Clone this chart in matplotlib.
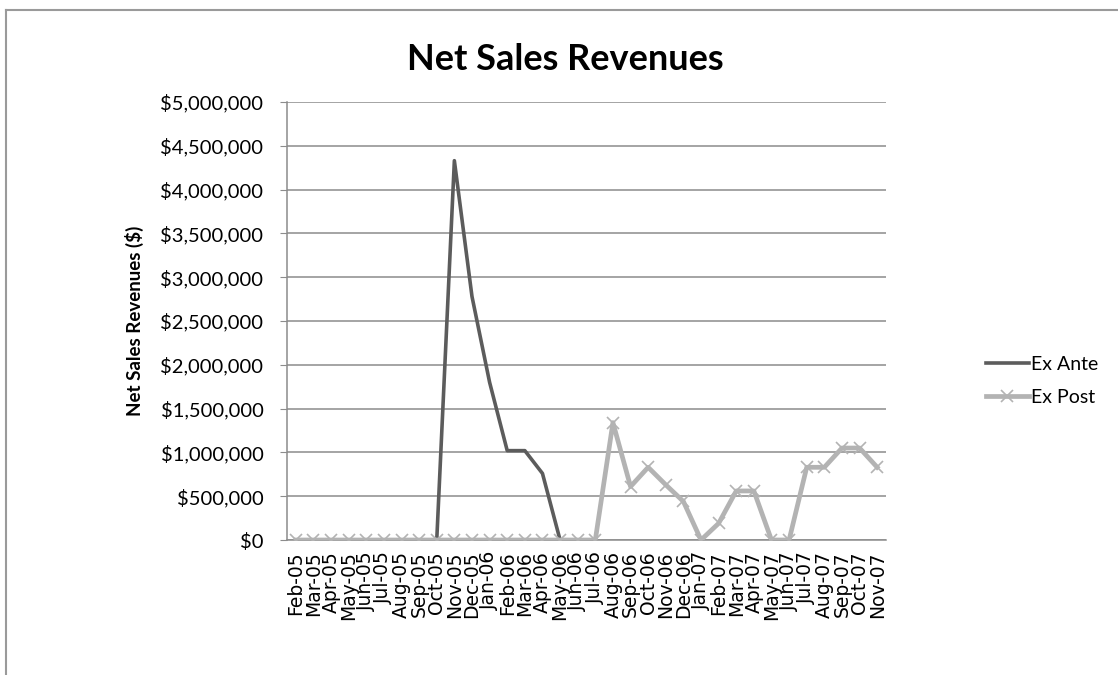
import numpy as np
import matplotlib
matplotlib.use("Agg")
import matplotlib.pyplot as plt
from matplotlib.lines import Line2D
from matplotlib.ticker import FuncFormatter, MultipleLocator

months = ["Feb-05", "Mar-05", "Apr-05", "May-05", "Jun-05", "Jul-05", "Aug-05",
          "Sep-05", "Oct-05", "Nov-05", "Dec-05", "Jan-06", "Feb-06", "Mar-06",
          "Apr-06", "May-06", "Jun-06", "Jul-06", "Aug-06", "Sep-06", "Oct-06",
          "Nov-06", "Dec-06", "Jan-07", "Feb-07", "Mar-07", "Apr-07", "May-07",
          "Jun-07", "Jul-07", "Aug-07", "Sep-07", "Oct-07", "Nov-07"]

nan = np.nan
ex_ante = [nan, nan, nan, nan, nan, nan, nan, nan,
           0, 4330000, 2780000, 1800000, 1020000, 1020000, 760000, 0,
           nan, nan, nan, nan, nan, nan, nan, nan, nan, nan, nan, nan,
           nan, nan, nan, nan, nan, nan]

ex_post = [0, 0, 0, 0, 0, 0, 0, 0, 0, 0, 0, 0, 0, 0, 0, 0, 0, 0,
           1340000, 610000, 830000, 630000, 440000, 0, 190000, 560000,
           560000, 0, 0, 830000, 830000, 1050000, 1050000, 830000]

series_names = ["Ex Ante", "Ex Post"]

W, H = 1118, 675
fig = plt.figure(figsize=(W / 100, H / 100), dpi=100)
fig.patch.set_facecolor("white")

# chart frame (top and left edges)
fig.add_artist(Line2D([6 / W, 1], [1 - 9.5 / H, 1 - 9.5 / H], color="#9a9a9a",
                      lw=1.5, transform=fig.transFigure))
fig.add_artist(Line2D([6 / W, 6 / W], [0, 1 - 9.5 / H], color="#9a9a9a",
                      lw=1.5, transform=fig.transFigure))

ax = fig.add_axes([287 / W, 1 - 540 / H, (886 - 287) / W, (540 - 102) / H])
x = np.arange(len(months))

ax.plot(x, ex_ante, color="#5c5c5c", lw=2.6, label=series_names[0],
        solid_joinstyle="round", zorder=3)
ax.plot(x, ex_post, color="#b3b3b3", lw=3.4, marker="x", markersize=9,
        markeredgewidth=1.2, label=series_names[1], solid_joinstyle="round",
        zorder=4)

ax.set_xlim(-0.5, len(months) - 0.5)
ax.set_ylim(0, 5000000)
ax.yaxis.set_major_locator(MultipleLocator(500000))
ax.yaxis.set_major_formatter(FuncFormatter(lambda v, p: "${:,.0f}".format(v)))
ax.grid(axis="y", color="#8c8c8c", lw=1.1)
ax.set_axisbelow(True)

for s in ["top", "right"]:
    ax.spines[s].set_visible(False)
ax.spines["left"].set_color("#8c8c8c")
ax.spines["bottom"].set_color("#8c8c8c")
ax.spines["left"].set_linewidth(1.1)
ax.spines["bottom"].set_linewidth(1.1)

ax.set_xticks(x)
ax.set_xticklabels(months, rotation=90, fontsize=13.5, family="DejaVu Sans",
                   color="black")
ax.tick_params(axis="x", length=0, pad=8)
ax.tick_params(axis="y", length=5, color="#8c8c8c", pad=12, labelsize=14.5)
for lab in ax.get_yticklabels():
    lab.set_family("Lato")

ax.set_ylabel("Net Sales Revenues ($)", family="Lato", fontweight="bold",
              fontsize=13.5, labelpad=12)

fig.text(565 / W, 1 - 60 / H, "Net Sales Revenues", ha="center", va="center",
         family="Lato", fontweight="bold", fontsize=26)

leg = ax.legend(loc="center left", bbox_to_anchor=(986 / W, 1 - 381 / H),
                bbox_transform=fig.transFigure, frameon=False,
                prop={"family": "Lato", "size": 14}, handlelength=2.2,
                handletextpad=0.1, labelspacing=0.8, borderpad=0,
                borderaxespad=0)

fig.savefig("out.png", dpi=100, facecolor="white")
